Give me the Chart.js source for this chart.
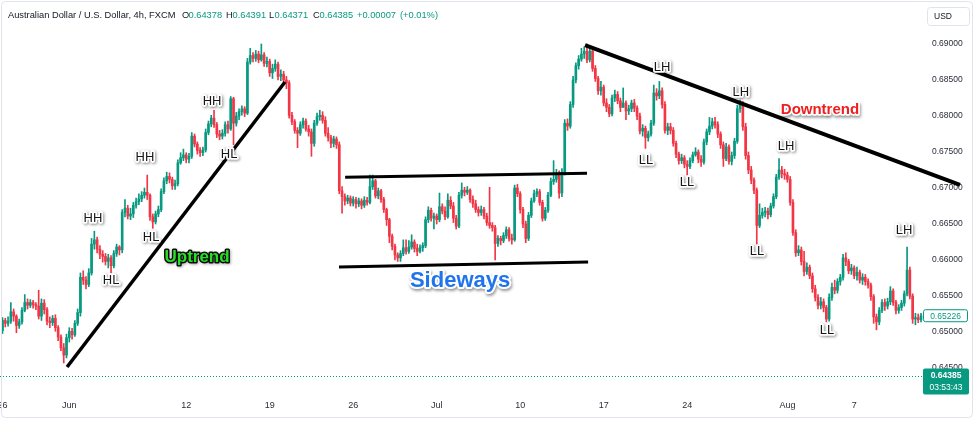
<!DOCTYPE html>
<html>
<head>
<meta charset="utf-8">
<title>Australian Dollar / U.S. Dollar, 4h</title>
<script src="https://cdn.jsdelivr.net/npm/chart.js@4.4.1/dist/chart.umd.min.js"></script>
<style>
  html, body { margin: 0; padding: 0; background: #ffffff; }
  canvas { display: block; }
</style>
</head>
<body>
<canvas id="chart" width="975" height="422"></canvas>
<script>
// ---- AUD/USD 4h candles, May 26 – Aug 11 (six bars per trading day) ----
const opens = [
  .6502,.6516,.6512,.6515,.6528,.6522, .6509,.6514,.6530,.6541,.6537,.6541,
  .6538,.6536,.6522,.6540,.6531,.6515, .6513,.6519,.6506,.6493,.6478,.6468,
  .6492,.6501,.6496,.6512,.6527,.6576, .6572,.6566,.6582,.6622,.6628,.6615,
  .6608,.6605,.6598,.6603,.6592,.6609, .6618,.6614,.6666,.6672,.6661,.6664,
  .6676,.6681,.6685,.6690,.6694,.6690, .6660,.6653,.6664,.6670,.6695,.6710,
  .6716,.6712,.6703,.6706,.6735,.6742, .6746,.6740,.6744,.6772,.6761,.6752,
  .6749,.6753,.6777,.6789,.6797,.6788, .6775,.6772,.6776,.6788,.6782,.6824,
  .6790,.6800,.6806,.6810,.6804,.6875, .6884,.6880,.6886,.6878,.6885,.6873,
  .6876,.6860,.6866,.6872,.6855,.6858, .6850,.6846,.6801,.6792,.6780,.6776,
  .6788,.6793,.6782,.6778,.6762,.6790, .6799,.6801,.6794,.6776,.6770,.6762,
  .6768,.6760,.6696,.6688,.6682,.6686, .6679,.6684,.6678,.6682,.6676,.6683,
  .6680,.6702,.6710,.6689,.6696,.6684, .6670,.6656,.6633,.6619,.6607,.6603,
  .6609,.6617,.6612,.6618,.6625,.6616, .6612,.6617,.6620,.6656,.6669,.6658,
  .6661,.6656,.6674,.6668,.6660,.6683, .6675,.6658,.6647,.6690,.6697,.6694,
  .6697,.6684,.6678,.6670,.6666,.6670, .6661,.6652,.6648,.6645,.6623,.6630,
  .6627,.6634,.6642,.6630,.6628,.6700, .6692,.6670,.6650,.6630,.6662,.6682,
  .6692,.6695,.6680,.6658,.6669,.6690, .6709,.6712,.6720,.6693,.6722,.6790,
  .6786,.6816,.6850,.6870,.6879,.6886, .6890,.6878,.6890,.6866,.6852,.6835,
  .6840,.6818,.6812,.6803,.6825,.6830, .6821,.6812,.6818,.6807,.6810,.6818,
  .6811,.6800,.6779,.6783,.6770,.6775, .6790,.6832,.6828,.6835,.6816,.6780,
  .6785,.6780,.6762,.6747,.6738,.6742, .6733,.6730,.6738,.6746,.6750,.6740,
  .6736,.6764,.6778,.6786,.6792,.6788, .6775,.6760,.6741,.6757,.6737,.6745,
  .6765,.6810,.6817,.6785,.6745,.6725, .6711,.6697,.6648,.6662,.6666,.6668,
  .6663,.6675,.6688,.6715,.6725,.6720, .6718,.6712,.6680,.6638,.6610,.6614,
  .6598,.6584,.6590,.6578,.6560,.6548, .6537,.6542,.6534,.6518,.6548,.6562,
  .6558,.6570,.6576,.6603,.6598,.6585, .6589,.6578,.6583,.6572,.6576,.6570,
  .6565,.6549,.6521,.6514,.6530,.6541, .6536,.6542,.6557,.6541,.6530,.6534,
  .6540,.6553,.6586,.6550,.6518,.6520,.6517
];
const highs = [
  .6520,.6519,.6521,.6541,.6532,.6524, .6518,.6534,.6552,.6546,.6545,.6544,
  .6541,.6558,.6546,.6545,.6534,.6521, .6523,.6524,.6509,.6496,.6484,.6497,
  .6506,.6505,.6516,.6532,.6582,.6585, .6577,.6588,.6630,.6640,.6632,.6620,
  .6613,.6609,.6608,.6606,.6613,.6622, .6620,.6670,.6684,.6676,.6672,.6680,
  .6686,.6692,.6695,.6700,.6718,.6692, .6664,.6668,.6675,.6699,.6714,.6722,
  .6721,.6715,.6711,.6739,.6749,.6754, .6749,.6748,.6777,.6775,.6764,.6756,
  .6757,.6782,.6793,.6801,.6808,.6791, .6780,.6781,.6792,.6793,.6827,.6826,
  .6805,.6810,.6814,.6813,.6880,.6894, .6888,.6891,.6890,.6900,.6888,.6882,
  .6879,.6872,.6878,.6875,.6864,.6862, .6855,.6849,.6805,.6795,.6784,.6792,
  .6797,.6796,.6787,.6782,.6794,.6804, .6808,.6806,.6799,.6784,.6773,.6772,
  .6771,.6764,.6702,.6692,.6690,.6689, .6688,.6687,.6686,.6685,.6688,.6687,
  .6718,.6718,.6712,.6700,.6698,.6687, .6672,.6658,.6636,.6622,.6610,.6613,
  .6628,.6628,.6627,.6635,.6628,.6622, .6621,.6624,.6660,.6674,.6672,.6665,
  .6664,.6693,.6678,.6674,.6692,.6688, .6680,.6662,.6694,.6707,.6701,.6702,
  .6699,.6689,.6683,.6674,.6675,.6673, .6665,.6701,.6652,.6648,.6634,.6633,
  .6638,.6646,.6645,.6636,.6704,.6705, .6695,.6673,.6654,.6666,.6686,.6697,
  .6699,.6698,.6683,.6673,.6694,.6714, .6738,.6726,.6724,.6727,.6795,.6796,
  .6820,.6855,.6874,.6884,.6894,.6896, .6900,.6894,.6892,.6870,.6855,.6848,
  .6843,.6824,.6816,.6829,.6836,.6834, .6825,.6839,.6821,.6815,.6822,.6823,
  .6814,.6804,.6788,.6786,.6779,.6794, .6843,.6838,.6848,.6839,.6820,.6790,
  .6790,.6784,.6765,.6750,.6747,.6745, .6738,.6742,.6750,.6756,.6753,.6745,
  .6768,.6782,.6798,.6797,.6798,.6792, .6778,.6764,.6762,.6760,.6750,.6769,
  .6815,.6822,.6820,.6790,.6750,.6730, .6714,.6700,.6678,.6672,.6673,.6672,
  .6679,.6692,.6719,.6741,.6730,.6726, .6722,.6716,.6684,.6642,.6620,.6618,
  .6612,.6596,.6593,.6582,.6565,.6552, .6548,.6546,.6537,.6553,.6568,.6572,
  .6574,.6580,.6608,.6610,.6601,.6594, .6592,.6590,.6586,.6581,.6580,.6574,
  .6568,.6552,.6525,.6534,.6545,.6546, .6547,.6563,.6560,.6544,.6538,.6544,
  .6557,.6618,.6590,.6553,.6526,.6525,.6526
];
const lows = [
  .6498,.6507,.6508,.6512,.6515,.6499, .6505,.6511,.6528,.6532,.6534,.6533,
  .6531,.6518,.6516,.6525,.6510,.6506, .6509,.6501,.6488,.6474,.6457,.6464,
  .6486,.6490,.6494,.6509,.6522,.6566, .6560,.6563,.6579,.6615,.6610,.6602,
  .6597,.6593,.6589,.6582,.6589,.6605, .6607,.6610,.6660,.6657,.6656,.6659,
  .6672,.6677,.6681,.6686,.6684,.6655, .6644,.6650,.6660,.6667,.6692,.6706,
  .6707,.6698,.6698,.6703,.6733,.6738, .6735,.6735,.6741,.6757,.6747,.6744,
  .6745,.6750,.6774,.6785,.6784,.6770, .6767,.6768,.6772,.6776,.6780,.6760,
  .6786,.6795,.6801,.6799,.6802,.6872, .6875,.6876,.6874,.6876,.6869,.6868,
  .6855,.6852,.6862,.6850,.6849,.6845, .6838,.6797,.6788,.6776,.6756,.6773,
  .6783,.6779,.6772,.6744,.6758,.6787, .6794,.6790,.6772,.6765,.6756,.6757,
  .6755,.6692,.6665,.6676,.6678,.6675, .6675,.6672,.6674,.6671,.6673,.6676,
  .6678,.6698,.6686,.6685,.6680,.6666, .6648,.6624,.6614,.6600,.6598,.6598,
  .6606,.6608,.6609,.6615,.6611,.6606, .6610,.6612,.6617,.6652,.6654,.6643,
  .6650,.6653,.6664,.6656,.6658,.6671, .6652,.6643,.6645,.6686,.6689,.6691,
  .6680,.6673,.6666,.6661,.6662,.6657, .6648,.6644,.6640,.6600,.6619,.6621,
  .6624,.6630,.6626,.6622,.6626,.6688, .6665,.6645,.6624,.6627,.6659,.6680,
  .6688,.6676,.6654,.6655,.6666,.6688, .6705,.6708,.6686,.6688,.6718,.6780,
  .6783,.6812,.6846,.6865,.6876,.6880, .6874,.6875,.6862,.6848,.6830,.6829,
  .6814,.6806,.6799,.6800,.6820,.6817, .6806,.6812,.6795,.6802,.6806,.6806,
  .6795,.6775,.6772,.6755,.6765,.6772, .6787,.6822,.6824,.6811,.6776,.6774,
  .6775,.6758,.6742,.6733,.6734,.6728, .6718,.6727,.6735,.6744,.6735,.6730,
  .6733,.6760,.6774,.6782,.6783,.6770, .6755,.6730,.6738,.6733,.6732,.6741,
  .6762,.6805,.6780,.6740,.6720,.6706, .6692,.6622,.6645,.6658,.6660,.6657,
  .6660,.6672,.6685,.6712,.6714,.6712, .6708,.6676,.6634,.6605,.6606,.6593,
  .6578,.6580,.6574,.6555,.6543,.6532, .6532,.6528,.6514,.6515,.6544,.6553,
  .6554,.6565,.6572,.6592,.6581,.6580, .6574,.6572,.6568,.6566,.6565,.6561,
  .6544,.6512,.6503,.6510,.6527,.6530, .6532,.6538,.6537,.6525,.6526,.6530,
  .6536,.6550,.6546,.6512,.6510,.6513,.6514
];
const closes = [
  .6516,.6512,.6515,.6528,.6522,.6509, .6514,.6530,.6541,.6537,.6541,.6538,
  .6536,.6522,.6540,.6531,.6515,.6513, .6519,.6506,.6493,.6478,.6468,.6492,
  .6501,.6496,.6512,.6527,.6576,.6572, .6566,.6582,.6622,.6628,.6615,.6608,
  .6605,.6598,.6603,.6592,.6609,.6618, .6614,.6666,.6672,.6661,.6664,.6676,
  .6681,.6685,.6690,.6694,.6690,.6660, .6653,.6664,.6670,.6695,.6710,.6716,
  .6712,.6703,.6706,.6735,.6742,.6746, .6740,.6744,.6772,.6761,.6752,.6749,
  .6753,.6777,.6789,.6797,.6788,.6775, .6772,.6776,.6788,.6782,.6824,.6790,
  .6800,.6806,.6810,.6804,.6875,.6884, .6880,.6886,.6878,.6885,.6873,.6876,
  .6860,.6866,.6872,.6855,.6858,.6850, .6846,.6801,.6792,.6780,.6776,.6788,
  .6793,.6782,.6778,.6762,.6790,.6799, .6801,.6794,.6776,.6770,.6762,.6768,
  .6760,.6696,.6688,.6682,.6686,.6679, .6684,.6678,.6682,.6676,.6683,.6680,
  .6702,.6710,.6689,.6696,.6684,.6670, .6656,.6633,.6619,.6607,.6603,.6609,
  .6617,.6612,.6618,.6625,.6616,.6612, .6617,.6620,.6656,.6669,.6658,.6661,
  .6656,.6674,.6668,.6660,.6683,.6675, .6658,.6647,.6690,.6697,.6694,.6697,
  .6684,.6678,.6670,.6666,.6670,.6661, .6652,.6648,.6645,.6623,.6630,.6627,
  .6634,.6642,.6630,.6628,.6700,.6692, .6670,.6650,.6630,.6662,.6682,.6692,
  .6695,.6680,.6658,.6669,.6690,.6709, .6712,.6720,.6693,.6722,.6790,.6786,
  .6816,.6850,.6870,.6879,.6886,.6890, .6878,.6890,.6866,.6852,.6835,.6840,
  .6818,.6812,.6803,.6825,.6830,.6821, .6812,.6818,.6807,.6810,.6818,.6811,
  .6800,.6779,.6783,.6770,.6775,.6790, .6832,.6828,.6835,.6816,.6780,.6785,
  .6780,.6762,.6747,.6738,.6742,.6733, .6730,.6738,.6746,.6750,.6740,.6736,
  .6764,.6778,.6786,.6792,.6788,.6775, .6760,.6741,.6757,.6737,.6745,.6765,
  .6810,.6817,.6785,.6745,.6725,.6711, .6697,.6648,.6662,.6666,.6668,.6663,
  .6675,.6688,.6715,.6725,.6720,.6718, .6712,.6680,.6638,.6610,.6614,.6598,
  .6584,.6590,.6578,.6560,.6548,.6537, .6542,.6534,.6518,.6548,.6562,.6558,
  .6570,.6576,.6603,.6598,.6585,.6589, .6578,.6583,.6572,.6576,.6570,.6565,
  .6549,.6521,.6514,.6530,.6541,.6536, .6542,.6557,.6541,.6530,.6534,.6540,
  .6553,.6586,.6550,.6518,.6520,.6517,.65226
];

// bottom axis: bar index of the first bar of each labelled day
const dateTickIndex = [0, 24, 66, 96, 126, 156, 186, 216, 246, 282, 306];
const dateTickText  = ['26', 'Jun', '12', '19', '26', 'Jul', '10', '17', '24', 'Aug', '7'];
// right axis
const priceTicks = [0.645, 0.650, 0.655, 0.660, 0.665, 0.670, 0.675, 0.680, 0.685, 0.690];

// hand-drawn trend lines (bar index, price)
const uptrendIdx    = [23.2, 101.5];   const uptrendPrice    = [0.64514, 0.68472];
const rangeTopIdx   = [123.1, 210.0];  const rangeTopPrice   = [0.67149, 0.67204];
const rangeLowIdx   = [120.9, 210.4];  const rangeLowPrice   = [0.65903, 0.65972];
const downtrendIdx  = [209.3, 344.0];  const downtrendPrice  = [0.68986, 0.67042];

// swing point tags
const swingText  = ['HH', 'HL', 'HH', 'HL', 'HH', 'HL', 'LH', 'LH', 'LL', 'LL', 'LH', 'LL', 'LL', 'LH'];
const swingIdx   = [32.5, 39.0, 51.2, 53.4, 75.3, 81.4, 237.0, 265.3, 231.2, 245.9, 281.5, 271.1, 296.2, 323.9];
const swingPrice = [0.66583, 0.65722, 0.67431, 0.66319, 0.68208, 0.67472, 0.68681, 0.68333,
                    0.67389, 0.67083, 0.67583, 0.66125, 0.65028, 0.66417];

// phase captions
const phaseText  = ['Uptrend', 'Sideways', 'Downtrend'];
const phaseIdx   = [69.9, 164.4, 293.7];
const phasePrice = [0.66042, 0.65708, 0.68083];

// live quote shown in the header and on the price scale
const livePrice = 0.64385;
const quoteText = ['O', '0.64378', 'H', '0.64391', 'L', '0.64371', 'C', '0.64385', '+0.00007', '(+0.01%)'];
const symbolTitle = 'Australian Dollar / U.S. Dollar, 4h, FXCM';
const countdown = '03:53:43';

const UP = '#089981';
const DOWN = '#f23645';
const FONT = '"Liberation Sans", Arial, sans-serif';

const barIndex = closes.map((_, i) => i);
const candleColor = barIndex.map(i => closes[i] >= opens[i] ? UP : DOWN);

function segment(xs, ys) { return xs.map((x, k) => ({ x: x, y: ys[k] })); }

function trendLine(xs, ys, width) {
  return {
    type: 'line',
    data: segment(xs, ys),
    borderColor: '#000000',
    borderWidth: width,
    pointRadius: 0,
    tension: 0,
    clip: false,
    order: 0
  };
}

function haloText(ctx, text, px, py, font, fill, halo, haloWidth, shadowAlpha) {
  ctx.font = font;
  ctx.lineJoin = 'round';
  ctx.shadowColor = 'rgba(0,0,0,' + shadowAlpha + ')';
  ctx.shadowBlur = 3;
  ctx.shadowOffsetX = 1;
  ctx.shadowOffsetY = 1.5;
  ctx.strokeStyle = halo;
  ctx.lineWidth = haloWidth;
  ctx.strokeText(text, px, py);
  ctx.shadowColor = 'rgba(0,0,0,0)';
  ctx.fillStyle = fill;
  ctx.fillText(text, px, py);
}

function roundRect(ctx, x, y, w, h, r) {
  ctx.beginPath();
  ctx.moveTo(x + r, y);
  ctx.lineTo(x + w - r, y);
  ctx.quadraticCurveTo(x + w, y, x + w, y + r);
  ctx.lineTo(x + w, y + h - r);
  ctx.quadraticCurveTo(x + w, y + h, x + w - r, y + h);
  ctx.lineTo(x + r, y + h);
  ctx.quadraticCurveTo(x, y + h, x, y + h - r);
  ctx.lineTo(x, y + r);
  ctx.quadraticCurveTo(x, y, x + r, y);
  ctx.closePath();
}

// swing tags and phase captions, placed through the chart scales
const annotations = {
  id: 'annotations',
  afterDatasetsDraw(chart) {
    const { ctx, scales: { x, y } } = chart;
    ctx.save();
    ctx.textAlign = 'center';
    ctx.textBaseline = 'middle';
    swingText.forEach((t, k) => {
      haloText(ctx, t, x.getPixelForValue(swingIdx[k]), y.getPixelForValue(swingPrice[k]),
        '13px ' + FONT, '#161616', '#ffffff', 3.5, 0.45);
    });
    const styles = [
      { font: 'bold 17px ' + FONT, fill: '#27df27', halo: '#0b0b0b', w: 3, a: 0.3 },
      { font: 'bold 22px ' + FONT, fill: '#1f74ee', halo: '#ffffff', w: 4, a: 0.4 },
      { font: 'bold 15px ' + FONT, fill: '#f01d1d', halo: '#ffffff', w: 3.5, a: 0.4 }
    ];
    phaseText.forEach((t, k) => {
      const s = styles[k];
      haloText(ctx, t, x.getPixelForValue(phaseIdx[k]), y.getPixelForValue(phasePrice[k]),
        s.font, s.fill, s.halo, s.w, s.a);
    });
    ctx.restore();
  },
  afterDraw(chart) {
    const { ctx, chartArea, scales: { y } } = chart;
    ctx.save();

    // live price: dotted line across the pane
    const ly = Math.round(y.getPixelForValue(livePrice)) + 0.5;
    ctx.strokeStyle = UP;
    ctx.lineWidth = 1;
    ctx.setLineDash([1, 2]);
    ctx.beginPath();
    ctx.moveTo(chartArea.left, ly);
    ctx.lineTo(chartArea.right - 2, ly);
    ctx.stroke();
    ctx.setLineDash([]);

    // last visible close tag
    const lastClose = closes[closes.length - 1];
    const cy = y.getPixelForValue(lastClose);
    ctx.fillStyle = '#ffffff';
    roundRect(ctx, 923.5, cy - 6, 44, 12, 2);
    ctx.fill();
    ctx.strokeStyle = UP;
    ctx.stroke();
    ctx.fillStyle = UP;
    ctx.font = '8.5px ' + FONT;
    ctx.textAlign = 'center';
    ctx.textBaseline = 'middle';
    ctx.fillText(lastClose.toFixed(5), 945.5, cy + 0.5);

    // live price tag with countdown
    ctx.fillStyle = UP;
    roundRect(ctx, 923, ly - 8, 46, 26, 2);
    ctx.fill();
    ctx.fillStyle = '#ffffff';
    ctx.font = 'bold 8.5px ' + FONT;
    ctx.fillText(livePrice.toFixed(5), 946, ly - 1);
    ctx.font = '8.5px ' + FONT;
    ctx.fillText(countdown, 946, ly + 11);

    // currency button
    ctx.strokeStyle = '#e0e3eb';
    ctx.lineWidth = 1;
    roundRect(ctx, 927.5, 7.5, 42, 18, 3);
    ctx.stroke();
    ctx.fillStyle = '#131722';
    ctx.textAlign = 'left';
    ctx.font = '8.5px ' + FONT;
    ctx.fillText('USD', 934, 16.5);

    // header: symbol and OHLC of the live bar
    ctx.font = '9.3px ' + FONT;
    ctx.fillStyle = '#131722';
    ctx.fillText(symbolTitle, 8, 15);
    const qx = [182, 188.5, 226, 232.5, 269, 274.5, 313, 319.5, 357, 400];
    quoteText.forEach((t, k) => {
      const isKey = k < 8 && k % 2 === 0;
      ctx.fillStyle = isKey ? '#131722' : UP;
      ctx.fillText(t, qx[k], 15);
    });

    // window frame
    ctx.strokeStyle = '#e0e3eb';
    ctx.lineWidth = 1;
    roundRect(ctx, 1.5, 1.5, 971, 416, 4);
    ctx.stroke();
    ctx.restore();
  }
};

new Chart(document.getElementById('chart'), {
  type: 'bar',
  data: {
    datasets: [
      trendLine(uptrendIdx, uptrendPrice, 3.5),
      trendLine(rangeTopIdx, rangeTopPrice, 3),
      trendLine(rangeLowIdx, rangeLowPrice, 3),
      trendLine(downtrendIdx, downtrendPrice, 4),
      {
        // candle bodies: open → close
        data: barIndex.map(i => ({ x: i, y: [opens[i], closes[i]] })),
        backgroundColor: candleColor,
        borderWidth: 0,
        barThickness: 2,
        minBarLength: 1,
        grouped: false,
        order: 1
      },
      {
        // wicks: low → high
        data: barIndex.map(i => ({ x: i, y: [lows[i], highs[i]] })),
        backgroundColor: candleColor,
        borderWidth: 0,
        barThickness: 1,
        grouped: false,
        order: 2
      }
    ]
  },
  options: {
    responsive: false,
    animation: false,
    events: [],
    layout: { padding: 0 },
    plugins: { legend: { display: false }, tooltip: { enabled: false }, title: { display: false } },
    scales: {
      x: {
        type: 'linear',
        min: -0.898,
        max: 331.44,
        offset: false,
        grid: { display: false, drawTicks: false },
        border: { display: false },
        afterBuildTicks: s => { s.ticks = dateTickIndex.map(v => ({ value: v })); },
        afterFit: s => { s.height = 27; s.paddingLeft = 0; s.paddingRight = 0; },
        ticks: {
          autoSkip: false,
          maxRotation: 0,
          minRotation: 0,
          padding: 5,
          color: '#2a2e39',
          font: { family: FONT, size: 9 },
          callback: (v, i) => dateTickText[i]
        }
      },
      y: {
        type: 'linear',
        position: 'right',
        min: 0.641250,
        max: 0.696111,
        beginAtZero: false,
        grid: { display: false, drawTicks: false },
        border: { display: false },
        afterBuildTicks: s => { s.ticks = priceTicks.map(v => ({ value: v })); },
        afterFit: s => { s.width = 50; s.paddingTop = 0; s.paddingBottom = 0; },
        ticks: {
          padding: 7,
          color: '#2a2e39',
          font: { family: FONT, size: 8.5 },
          callback: v => v.toFixed(5)
        }
      }
    }
  },
  plugins: [annotations]
});
</script>
</body>
</html>
